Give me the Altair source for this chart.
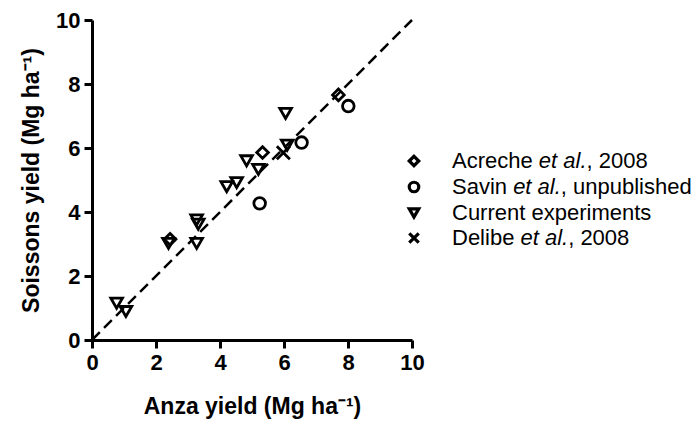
import altair as alt
import pandas as pd

# Yield pairs (Mg/ha): Anza on x, Soissons on y
acreche_x = [7.70, 5.33, 2.44]
acreche_y = [7.66, 5.86, 3.15]

savin_x = [8.01, 6.55, 5.24]
savin_y = [7.31, 6.17, 4.27]

current_x = [0.77, 1.06, 2.39, 3.27, 3.32, 3.27, 4.21, 4.52, 4.83, 5.20, 6.05, 6.10]
current_y = [1.15, 0.89, 3.02, 3.75, 3.62, 3.02, 4.79, 4.92, 5.60, 5.33, 7.08, 6.09]

delibe_x = [5.98]
delibe_y = [5.85]

ticks = [0, 2, 4, 6, 8, 10]
one_to_one = [0, 10]

FONT = "Liberation Sans"
X_SHAPE = "M-1,-1L1,1M-1,1L1,-1"

sources = [
    ("Acreche", "et al.", ", 2008", "diamond", acreche_x, acreche_y),
    ("Savin", "et al.", ", unpublished", "circle", savin_x, savin_y),
    ("Current experiments", "", "", "triangle-down", current_x, current_y),
    ("Delibe", "et al.", ", 2008", X_SHAPE, delibe_x, delibe_y),
]

x_enc = alt.X(
    "x:Q",
    scale=alt.Scale(domain=[0, 10], nice=False, zero=True),
    axis=alt.Axis(values=ticks, title="Anza yield (Mg ha⁻¹)", titlePadding=22),
)
y_enc = alt.Y(
    "y:Q",
    scale=alt.Scale(domain=[0, 10], nice=False, zero=True),
    axis=alt.Axis(values=ticks, title="Soissons yield (Mg ha⁻¹)", titlePadding=12),
)

line_df = pd.DataFrame({"x": one_to_one, "y": one_to_one})
ref_line = alt.Chart(line_df).mark_line(
    color="black", strokeWidth=2.5, strokeDash=[11, 6]
).encode(x=x_enc, y=y_enc)

layers = [ref_line]
for name, ital, tail, shape, xs, ys in sources:
    df = pd.DataFrame({"x": xs, "y": ys})
    size = 170 if shape == X_SHAPE else 135
    layers.append(
        alt.Chart(df).mark_point(
            shape=shape, filled=False, color="black", strokeWidth=2.8, size=size, opacity=1
        ).encode(x="x:Q", y="y:Q")
    )

# Hand-built legend (mixed roman / italic labels), in pixels from the plot origin
sym_x = 322
txt_x = 360
row_y = [141, 167, 193, 218]
font_size = 22
# Arial/Liberation advance widths per 1000 em
adv = {
    " ": 278, "A": 667, "c": 500, "r": 333, "e": 556, "h": 556, "S": 667, "a": 556,
    "v": 500, "i": 222, "n": 556, "D": 722, "l": 222, "b": 556, "t": 278, ".": 278,
}


def text_width(s):
    return sum(adv.get(ch, 556) for ch in s) * font_size / 1000.0


blank = pd.DataFrame({"k": [0]})
for (name, ital, tail, shape, _, _), ry in zip(sources, row_y):
    layers.append(
        alt.Chart(blank).mark_point(
            shape=shape, filled=False, color="black", strokeWidth=3.2, size=90, opacity=1
        ).encode(x=alt.value(sym_x), y=alt.value(ry))
    )
    head = name + (" " if ital else "")
    pieces = [(head, "normal")]
    if ital:
        pieces.append((ital, "italic"))
        pieces.append((tail, "normal"))
    cx = txt_x
    for s, style in pieces:
        layers.append(
            alt.Chart(blank).mark_text(
                text=s, align="left", baseline="middle", font=FONT, fontSize=font_size,
                fontStyle=style, color="black",
            ).encode(x=alt.value(cx), y=alt.value(ry))
        )
        cx += text_width(s)

chart = (
    alt.layer(*layers)
    .properties(
        width=320,
        height=320,
        autosize=alt.AutoSizeParams(type="none"),
        padding={"left": 92, "top": 20, "right": 285, "bottom": 82},
        background="white",
    )
    .configure_view(stroke=None)
    .configure_axis(
        grid=False,
        domainColor="black",
        domainWidth=3,
        tickColor="black",
        tickWidth=3,
        tickSize=8,
        labelFlush=False,
        labelFont=FONT,
        labelFontSize=22,
        labelFontWeight="bold",
        labelColor="black",
        labelPadding=4,
        titleFont=FONT,
        titleFontSize=23,
        titleFontWeight="bold",
        titleColor="black",
    )
)

chart.save("out.html", embed_options={"renderer": "svg", "actions": False})
